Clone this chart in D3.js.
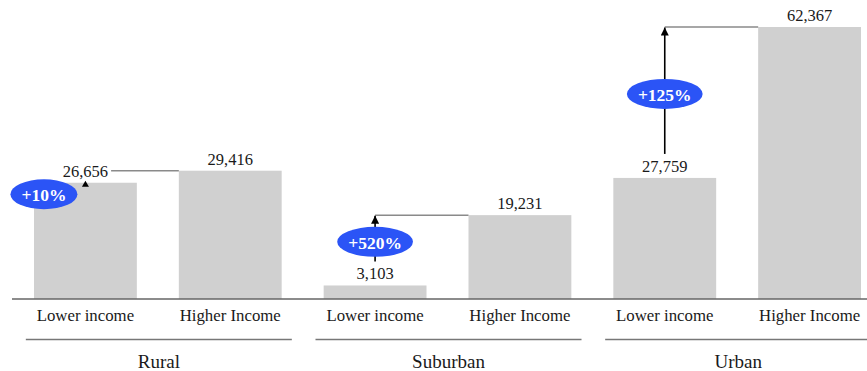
<!DOCTYPE html>
<html>
<head>
<meta charset="utf-8">
<script src="https://cdn.jsdelivr.net/npm/d3@7"></script>
<style>
  html, body { margin: 0; padding: 0; background: #fff; }
  svg { display: block; }
  text { font-family: "Liberation Serif", "Times New Roman", serif; }
</style>
</head>
<body>
<svg id="chart" width="867" height="371"></svg>
<script>
// Median household income by area type and income group
const groups = ["Rural", "Suburban", "Urban"];
const incomeLevels = ["Lower income", "Higher Income"];
const lowerIncome = [26656, 3103, 27759];
const higherIncome = [29416, 19231, 62367];

const W = 867, H = 371;
const baseY = 299, topY = 27;

const svg = d3.select("#chart");

const rows = [];
groups.forEach((g, i) => {
  rows.push({ key: g + "|0", group: g, level: incomeLevels[0], value: lowerIncome[i] });
  rows.push({ key: g + "|1", group: g, level: incomeLevels[1], value: higherIncome[i] });
});

const x = d3.scaleBand()
  .domain(rows.map(d => d.key))
  .range([34, 861])
  .paddingInner(0.29)
  .paddingOuter(0);

const y = d3.scaleLinear()
  .domain([0, d3.max(higherIncome.concat(lowerIncome))])
  .range([baseY, topY]);

const fmt = d3.format(",");

// arrowhead
svg.append("defs").append("marker")
  .attr("id", "arrowhead")
  .attr("viewBox", "0 0 10 10")
  .attr("refX", 10).attr("refY", 5)
  .attr("markerWidth", 8).attr("markerHeight", 8)
  .attr("markerUnits", "userSpaceOnUse")
  .attr("orient", "auto")
  .append("path").attr("d", "M0,0 L10,5 L0,10 Z").attr("fill", "#000");

// bars
svg.append("g").selectAll("rect").data(rows).join("rect")
  .attr("x", d => x(d.key))
  .attr("y", d => y(d.value))
  .attr("width", x.bandwidth())
  .attr("height", d => baseY - y(d.value))
  .attr("fill", "#d0d0d0");

// baseline
svg.append("line")
  .attr("x1", 12).attr("x2", W)
  .attr("y1", baseY).attr("y2", baseY)
  .attr("stroke", "#666").attr("stroke-width", 1.5);

// value labels
const valueLabels = svg.append("g").selectAll("text").data(rows).join("text")
  .attr("x", d => x(d.key) + x.bandwidth() / 2)
  .attr("y", d => y(d.value) - 6)
  .attr("text-anchor", "middle")
  .attr("font-size", 16.5)
  .attr("fill", "#1a1a1a")
  .text(d => fmt(d.value));

// category labels under each bar
svg.append("g").selectAll("text").data(rows).join("text")
  .attr("x", d => x(d.key) + x.bandwidth() / 2)
  .attr("y", 321)
  .attr("text-anchor", "middle")
  .attr("font-size", 16.8)
  .attr("fill", "#1a1a1a")
  .text(d => d.level);

// group labels with rule lines
groups.forEach((g, i) => {
  const cx = (x(g + "|0") + x(g + "|1") + x.bandwidth()) / 2 + 1;
  svg.append("line")
    .attr("x1", cx - 133).attr("x2", cx + 133)
    .attr("y1", 339.5).attr("y2", 339.5)
    .attr("stroke", "#777").attr("stroke-width", 1.5);
  svg.append("text")
    .attr("x", cx).attr("y", 368)
    .attr("text-anchor", "middle")
    .attr("font-size", 19)
    .attr("fill", "#1a1a1a")
    .text(g);
});

// change annotations: arrow from the lower bar up to the higher bar's level
const ann = svg.append("g");
groups.forEach((g, i) => {
  const lo = lowerIncome[i], hi = higherIncome[i];
  const ax = x(g + "|0") + x.bandwidth() / 2;
  const loTop = y(lo), hiTop = y(hi);
  const y1 = loTop - 24;
  const pct = "+" + Math.round((hi / lo - 1) * 100) + "%";

  // connector across to the higher bar
  const labelNode = valueLabels.filter(d => d.key === g + "|0").node();
  const bb = labelNode.getBBox();
  let cx0 = ax;
  if (hiTop > bb.y && hiTop < bb.y + bb.height) cx0 = bb.x + bb.width + 3;
  ann.append("line")
    .attr("x1", cx0).attr("x2", x(g + "|1"))
    .attr("y1", hiTop).attr("y2", hiTop)
    .attr("stroke", "#8a8a8a").attr("stroke-width", 1.5);

  const roomy = y1 - hiTop > 20;
  if (roomy) {
    ann.append("line")
      .attr("x1", ax).attr("x2", ax)
      .attr("y1", y1).attr("y2", hiTop + 0.5)
      .attr("stroke", "#000").attr("stroke-width", 1.6)
      .attr("marker-end", "url(#arrowhead)");
  } else {
    // too little room: only the arrowhead sits on the bar top
    ann.append("path")
      .attr("d", `M${ax - 3.5},${loTop + 4} L${ax},${loTop - 2} L${ax + 3.5},${loTop + 4} Z`)
      .attr("fill", "#000");
  }

  // badge
  const badge = ann.append("g");
  const t = badge.append("text")
    .attr("text-anchor", "middle")
    .attr("dominant-baseline", "central")
    .attr("font-size", 17.5)
    .attr("font-weight", "bold")
    .attr("fill", "#fff")
    .text(pct);
  const tw = t.node().getComputedTextLength();
  const rx = tw / 2 + 11, ry = 15;
  let bx, by;
  if (roomy) {
    bx = ax; by = (y1 + hiTop) / 2 + 3.5;
  } else {
    bx = ax - rx - 8; by = loTop + 11.5;
  }
  badge.insert("ellipse", "text")
    .attr("cx", bx).attr("cy", by)
    .attr("rx", rx).attr("ry", ry)
    .attr("fill", "#2b54f6");
  t.attr("x", bx).attr("y", by + 1);
});
</script>
</body>
</html>
